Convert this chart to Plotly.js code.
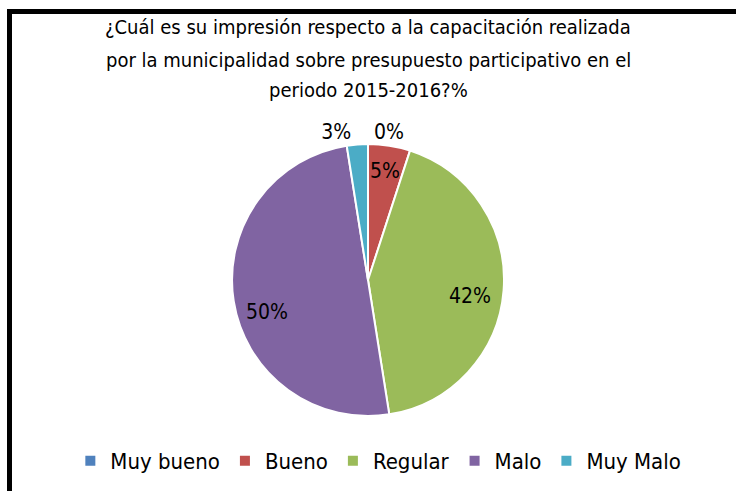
<!DOCTYPE html>
<html>
<head>
<meta charset="utf-8">
<script src="https://cdn.plot.ly/plotly-3.0.1.min.js"></script>
<style>
  html, body { margin: 0; padding: 0; background: #ffffff; }
  #frame { position: absolute; left: 7px; top: 9px; width: 729px; height: 482px;
           border-top: 5px solid #000; border-left: 5px solid #000; box-sizing: border-box; }
  #chart { position: absolute; left: 0; top: 0; width: 724px; height: 477px; }
</style>
</head>
<body>
<div id="frame"><div id="chart"></div></div>
<script>
const categories = ["Muy bueno", "Bueno", "Regular", "Malo", "Muy Malo"];
const values = [0, 5, 42.5, 50, 2.5];
const labelsText = ["0%", "5%", "42%", "50%", "3%"];
const colors = ["#4F81BD", "#C0504D", "#9BBB59", "#8064A2", "#4BACC6"];
const titleLines = [
  "¿Cuál es su impresión respecto a la capacitación realizada",
  "por la municipalidad sobre presupuesto participativo en el",
  "periodo 2015-2016?%"
];

const W = 724, H = 477;
const cx = 356, cy = 266, r = 136;
const fontFam = "'DejaVu Sans Condensed', 'Liberation Sans Narrow', Arial, sans-serif";

// inside labels placed at slice mid-angle (computed from values)
const total = values.reduce((a, b) => a + b, 0);
const insideIdx = [1, 2, 3];
const labelAnn = [];
let cum = 0;
values.forEach((v, i) => {
  const mid = (cum + v / 2) / total * 2 * Math.PI;
  cum += v;
  if (insideIdx.includes(i)) {
    const f = i === 1 ? 0.8 : 0.75;
    const px = cx + f * r * Math.sin(mid);
    const py = cy - f * r * Math.cos(mid) + (i === 1 ? -2 : (i === 3 ? 16 : 8));
    labelAnn.push({
      text: labelsText[i], xref: "paper", yref: "paper", x: px / W, y: (H - py) / H,
      xanchor: "center", yanchor: "middle", showarrow: false,
      font: { family: fontFam, size: 21, color: "#000000" }
    });
  }
});

const trace = {
  type: "pie",
  labels: categories,
  values: values,
  text: labelsText.map((t, i) => insideIdx.includes(i) ? "" : t),
  textinfo: "text",
  textposition: ["outside", "none", "none", "none", "outside"],
  sort: false,
  direction: "clockwise",
  rotation: 0,
  marker: { colors: colors, line: { color: "#ffffff", width: 2 } },
  outsidetextfont: { family: fontFam, size: 21, color: "#000000" },
  domain: { x: [(cx - r) / W, (cx + r) / W], y: [(H - cy - r) / H, (H - cy + r) / H] },
  hoverinfo: "label+value"
};

const titleY = [13, 46, 76];
const titleAnn = titleLines.map((t, i) => ({
  text: t, xref: "paper", yref: "paper", x: 356 / W, y: (H - titleY[i]) / H,
  xanchor: "center", yanchor: "middle", showarrow: false,
  font: { family: fontFam, size: 20, color: "#000000" }
}));

const layout = {
  width: W, height: H,
  margin: { l: 0, r: 0, t: 0, b: 0 },
  paper_bgcolor: "#ffffff",
  showlegend: true,
  legend: {
    orientation: "h", x: 0.506, xanchor: "center", y: (H - 447) / H, yanchor: "middle",
    font: { family: fontFam, size: 22, color: "#000000" },
    traceorder: "normal", itemwidth: 30
  },
  annotations: titleAnn.concat(labelAnn)
};

Plotly.newPlot("chart", [trace], layout, { displayModeBar: false, staticPlot: true });
</script>
</body>
</html>
